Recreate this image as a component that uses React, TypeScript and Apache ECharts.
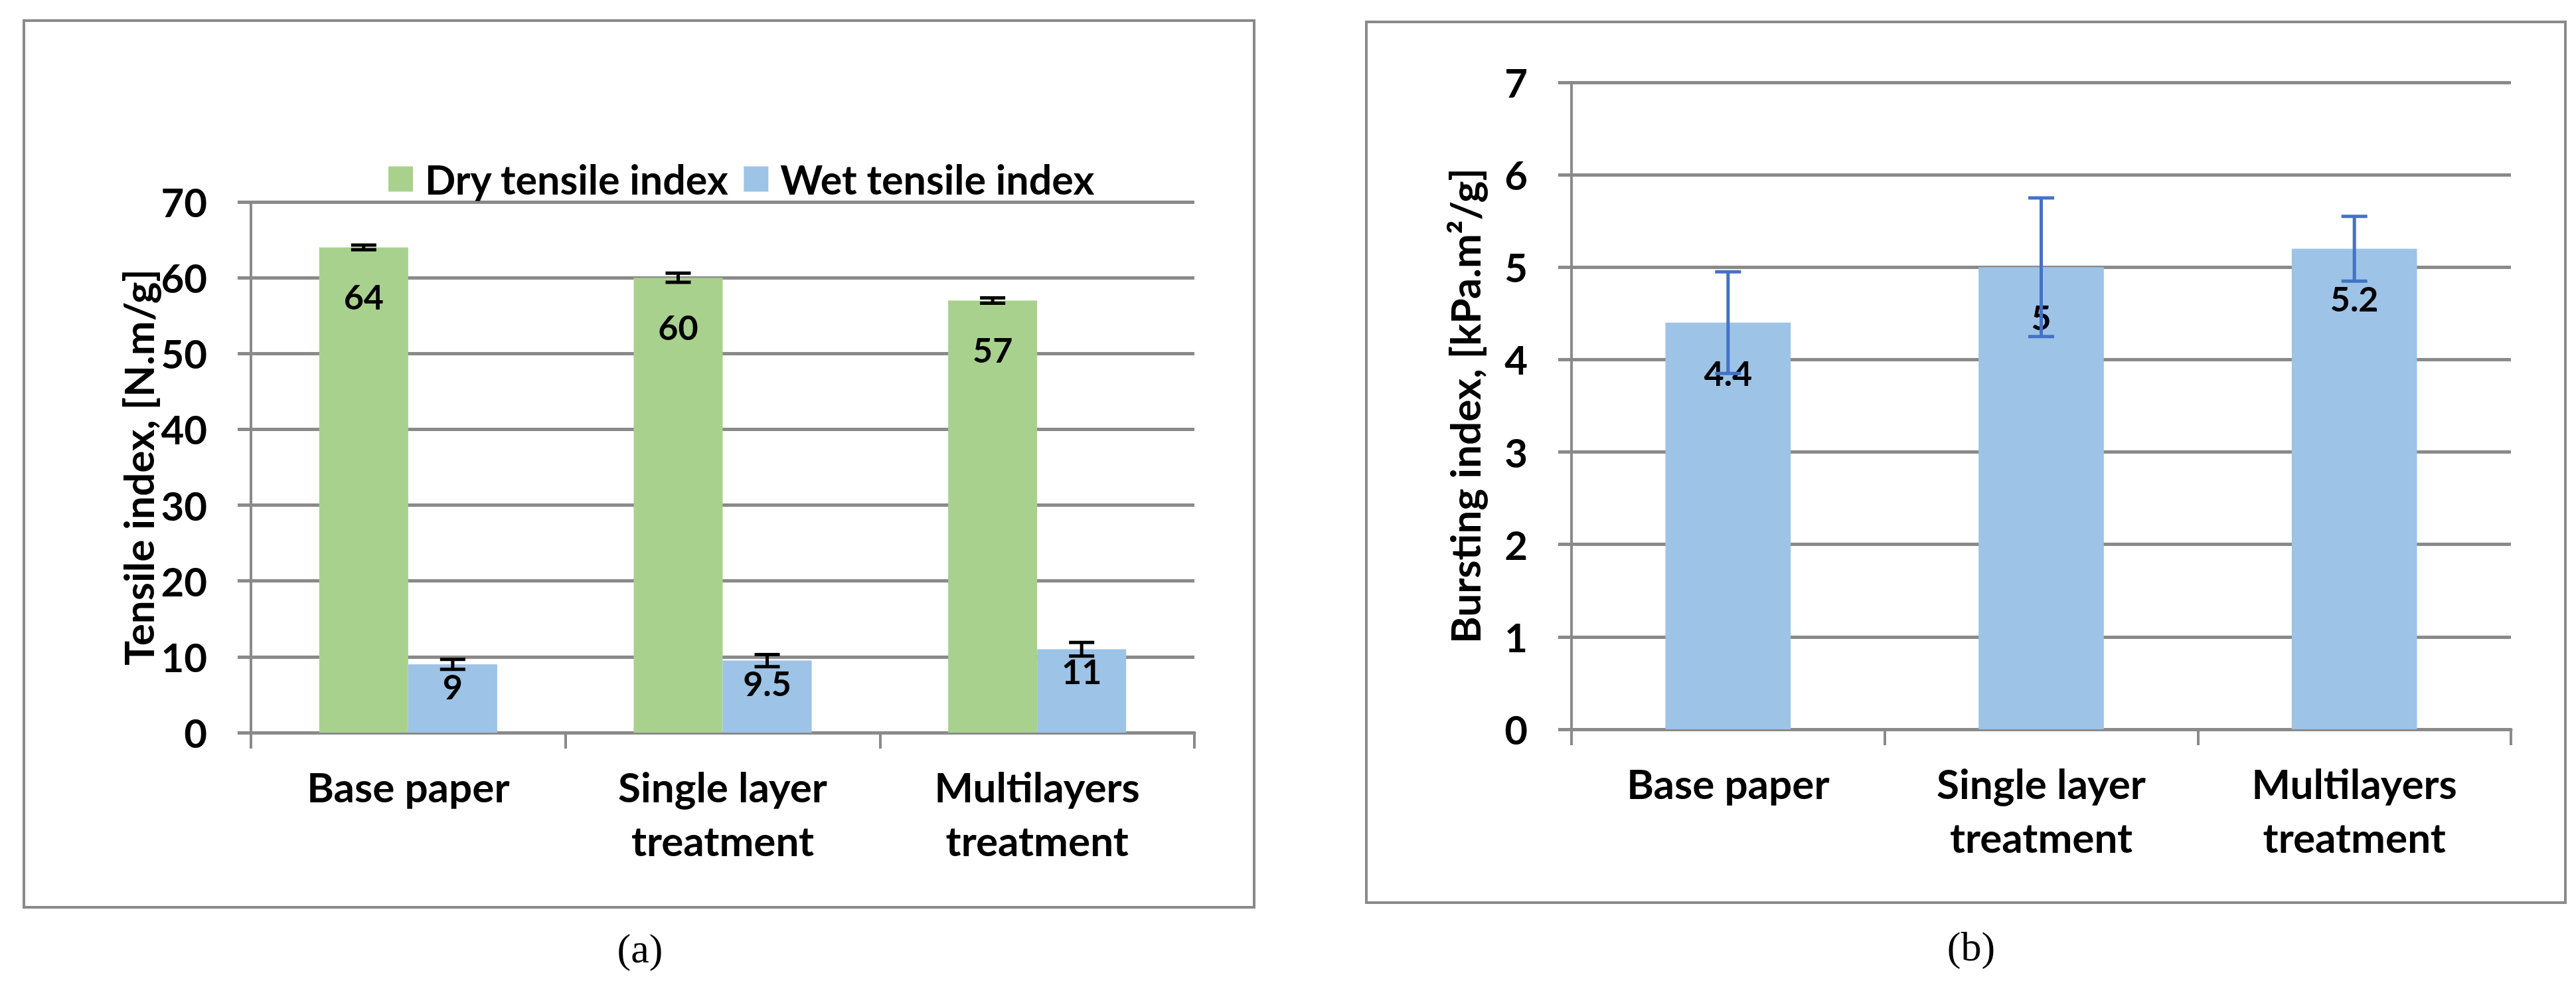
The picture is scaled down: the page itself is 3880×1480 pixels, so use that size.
import React, { useEffect, useRef } from "react";
import * as echarts from "echarts";

const categories = ["Base paper", "Single layer\ntreatment", "Multilayers\ntreatment"];
const dryTensile = [64, 60, 57];
const dryTensileErr = [0.3, 0.6, 0.35];
const wetTensile = [9, 9.5, 11];
const wetTensileErr = [0.65, 0.8, 0.9];
const bursting = [4.4, 5, 5.2];
const burstingErr = [0.55, 0.75, 0.35];
const tensileTicks = { min: 0, max: 70, interval: 10 };
const burstTicks = { min: 0, max: 7, interval: 1 };

const FONT = "Lato, Carlito, 'Open Sans', sans-serif";
const GRAY = "#8a8a8a";
const GREEN = "#a9d18e";
const BLUE = "#9dc3e6";

function errData(vals: number[], errs: number[]) {
  return vals.map((v, i) => [i, v, errs[i]]);
}

function errorRenderer(barFrac: number, side: number, color: string, lw: number, capW: number) {
  return (params: any, api: any) => {
    const x = api.value(0);
    const v = api.value(1);
    const e = api.value(2);
    const top = api.coord([x, v + e]);
    const bot = api.coord([x, v - e]);
    const cw = api.size([1, 0])[0];
    const cx = top[0] + (side * cw * barFrac) / 2;
    const style = { stroke: color, lineWidth: lw };
    return {
      type: "group",
      children: [
        { type: "line", shape: { x1: cx, y1: top[1], x2: cx, y2: bot[1] }, style },
        { type: "line", shape: { x1: cx - capW / 2, y1: top[1], x2: cx + capW / 2, y2: top[1] }, style },
        { type: "line", shape: { x1: cx - capW / 2, y1: bot[1], x2: cx + capW / 2, y2: bot[1] }, style },
      ],
    };
  };
}

export default function App() {
  const ref = useRef<HTMLDivElement>(null);
  useEffect(() => {
    if (!ref.current) return;
    const chart = echarts.init(ref.current, null, { renderer: "svg" });
    const xAxisCommon = (gridIndex: number) => ({
      type: "category",
      gridIndex,
      data: categories,
      axisLine: { show: true, lineStyle: { color: GRAY, width: 5 } },
      axisTick: { show: true, length: 24, lineStyle: { color: GRAY, width: 4 } },
      axisLabel: { fontFamily: FONT, fontWeight: "bold", fontSize: 62, color: "#000", margin: 40, lineHeight: 81, interval: 0 },
      splitLine: { show: false },
    });
    const yAxisCommon = (gridIndex: number, ticks: any, name: string) => ({
      type: "value",
      gridIndex,
      min: ticks.min,
      max: ticks.max,
      interval: ticks.interval,
      name,
      nameLocation: "middle",
      nameRotate: 90,
      nameGap: 130,
      nameTextStyle: { fontFamily: FONT, fontWeight: "bold", fontSize: 62, lineHeight: 62, color: "#000" },
      axisLine: { show: true, lineStyle: { color: GRAY, width: 4 } },
      axisTick: { show: true, length: 20, lineStyle: { color: GRAY, width: 5 } },
      axisLabel: { fontFamily: FONT, fontWeight: "bold", fontSize: 60, color: "#000", margin: 66 },
      splitLine: { show: true, lineStyle: { color: GRAY, width: 5 } },
    });
    const barLabel = (distance: number) => ({
      show: true,
      position: "insideTop",
      distance,
      fontFamily: FONT,
      fontWeight: "bold",
      fontSize: 52,
      lineHeight: 52,
      color: "#000",
    });
    chart.setOption({
      animation: false,
      backgroundColor: "#fff",
      grid: [
        { left: 378, top: 304, width: 1421, height: 799 },
        { left: 2367, top: 124, width: 1415, height: 974 },
      ],
      legend: {
        data: ["Dry tensile index", "Wet tensile index"],
        left: 585,
        top: 239,
        padding: 0,
        itemWidth: 37,
        itemHeight: 38,
        itemGap: 22,
        icon: "rect",
        textStyle: { fontFamily: FONT, fontWeight: "bold", fontSize: 61, lineHeight: 44, color: "#000", padding: [0, 0, 0, 13] },
      },
      xAxis: [xAxisCommon(0), xAxisCommon(1)],
      yAxis: [
        yAxisCommon(0, tensileTicks, "Tensile index, [N.m/g]"),
        yAxisCommon(1, burstTicks, "Bursting index, [kPa.m²/g]"),
      ],
      series: [
        {
          name: "Dry tensile index",
          type: "bar",
          xAxisIndex: 0,
          yAxisIndex: 0,
          data: dryTensile,
          barWidth: "28.3%",
          barGap: "0%",
          itemStyle: { color: GREEN },
          label: barLabel(48),
        },
        {
          name: "Wet tensile index",
          type: "bar",
          xAxisIndex: 0,
          yAxisIndex: 0,
          data: wetTensile,
          barWidth: "28.3%",
          barGap: "0%",
          itemStyle: { color: BLUE },
          label: barLabel(7),
        },
        {
          name: "Bursting index",
          type: "bar",
          xAxisIndex: 1,
          yAxisIndex: 1,
          data: bursting,
          barWidth: "40%",
          itemStyle: { color: BLUE },
          label: barLabel(49),
        },
        {
          name: "dryErr",
          type: "custom",
          xAxisIndex: 0,
          yAxisIndex: 0,
          data: errData(dryTensile, dryTensileErr),
          encode: { x: 0, y: 1 },
          renderItem: errorRenderer(0.283, -1, "#000", 5, 38),
          z: 5,
        },
        {
          name: "wetErr",
          type: "custom",
          xAxisIndex: 0,
          yAxisIndex: 0,
          data: errData(wetTensile, wetTensileErr),
          encode: { x: 0, y: 1 },
          renderItem: errorRenderer(0.283, 1, "#000", 5, 38),
          z: 5,
        },
        {
          name: "burstErr",
          type: "custom",
          xAxisIndex: 1,
          yAxisIndex: 1,
          data: errData(bursting, burstingErr),
          encode: { x: 0, y: 1 },
          renderItem: errorRenderer(0, 0, "#4472c4", 5, 39),
          z: 5,
        },
      ],
      graphic: [
        { type: "rect", shape: { x: 36, y: 31, width: 1853, height: 1335 }, style: { fill: "none", stroke: GRAY, lineWidth: 4 }, z: -1 },
        { type: "rect", shape: { x: 2058, y: 33, width: 1806, height: 1326 }, style: { fill: "none", stroke: GRAY, lineWidth: 4 }, z: -1 },
        { type: "text", x: 964, y: 1428, style: { text: "(a)", font: "62px 'Liberation Serif', serif", fill: "#000", textAlign: "center", textVerticalAlign: "middle" } },
        { type: "text", x: 2969, y: 1425, style: { text: "(b)", font: "62px 'Liberation Serif', serif", fill: "#000", textAlign: "center", textVerticalAlign: "middle" } },
      ],
    });
    return () => chart.dispose();
  }, []);
  return <div ref={ref} style={{ position: "absolute", left: 0, top: 0, width: 3880, height: 1480 }} />;
}
